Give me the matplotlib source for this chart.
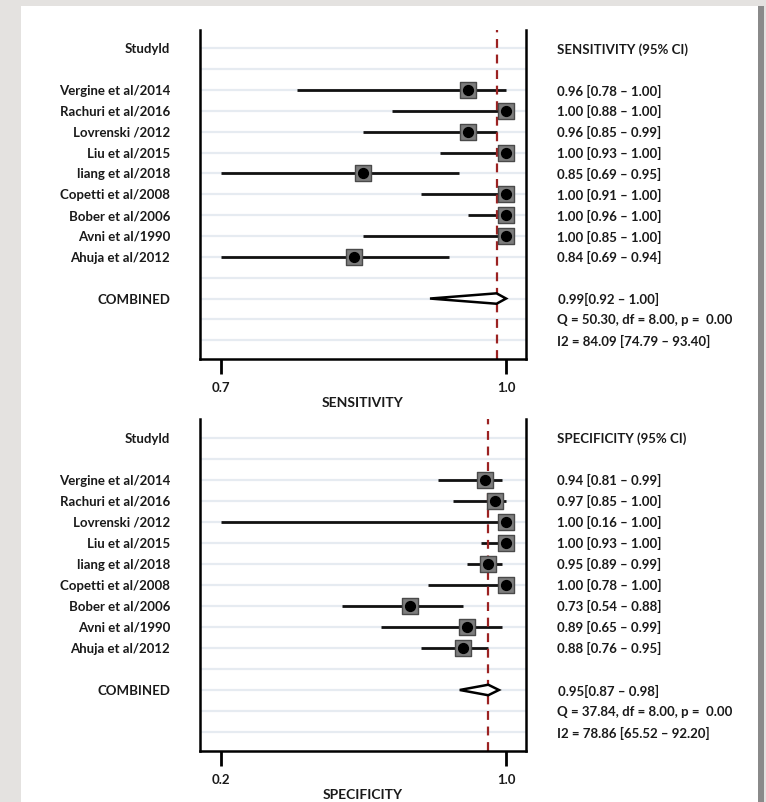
import matplotlib
matplotlib.use("Agg")
import matplotlib.pyplot as plt
from matplotlib.patches import Rectangle, Polygon

plt.rcParams['font.family'] = ['Lato', 'DejaVu Sans']
plt.rcParams['font.weight'] = 'bold'

studies = ["Vergine et al/2014", "Rachuri et al/2016", "Lovrenski /2012", "Liu et al/2015",
           "liang et al/2018", "Copetti et al/2008", "Bober et al/2006", "Avni et al/1990",
           "Ahuja et al/2012"]

sens = [0.96, 1.00, 0.96, 1.00, 0.85, 1.00, 1.00, 1.00, 0.84]
sens_lo = [0.78, 0.88, 0.85, 0.93, 0.69, 0.91, 0.96, 0.85, 0.69]
sens_hi = [1.00, 1.00, 0.99, 1.00, 0.95, 1.00, 1.00, 1.00, 0.94]
sens_comb = (0.99, 0.92, 1.00)
sens_q = "Q = 50.30, df = 8.00, p =  0.00"
sens_i2 = "I2 = 84.09 [74.79 \u2013 93.40]"

spec = [0.94, 0.97, 1.00, 1.00, 0.95, 1.00, 0.73, 0.89, 0.88]
spec_lo = [0.81, 0.85, 0.16, 0.93, 0.89, 0.78, 0.54, 0.65, 0.76]
spec_hi = [0.99, 1.00, 1.00, 1.00, 0.99, 1.00, 0.88, 0.99, 0.95]
spec_comb = (0.95, 0.87, 0.98)
spec_q = "Q = 37.84, df = 8.00, p =  0.00"
spec_i2 = "I2 = 78.86 [65.52 \u2013 92.20]"

W, H = 766, 803
fig = plt.figure(figsize=(W / 100, H / 100), dpi=100)
fig.patch.set_facecolor('#e4e2e0')
# white sheet with a shadow on the right
fig.add_artist(Rectangle((752 / W, 0), 12 / W, 1 - 7 / H, transform=fig.transFigure,
                         facecolor='#8a8a8a', edgecolor='none', zorder=0))
fig.add_artist(Rectangle((21 / W, 0), (758 - 21) / W, 1 - 7 / H, transform=fig.transFigure,
                         facecolor='white', edgecolor='none', zorder=0))

txt_size = 9.5
txt_col = '#1a1a1a'


def forest(rect, est, lo, hi, comb, q, i2, ticks, xlim, name):
    ax = fig.add_axes(rect)
    ax.set_facecolor('none')
    ax.set_xlim(*xlim)
    ax.set_ylim(14.9, -0.88)
    # light row lines
    for r in range(15):
        ax.axhline(r, color='#e6ebf1', lw=1.6, zorder=0)
    rows = list(range(2, 2 + len(est)))
    # CI lines are cut at the first tick, like the original
    for y, e, l, h in zip(rows, est, lo, hi):
        ax.plot([max(l, ticks[0]), h], [y, y], color='#111111', lw=2, solid_capstyle='butt', zorder=2)
    ax.axvline(comb[0], color='#9b2222', lw=1.6, ls=(0, (4, 3)), zorder=2.5)
    ax.scatter(est, rows, marker='s', s=135, facecolor='#7d7d7d', edgecolor='#4a4a4a', lw=1, zorder=3)
    ax.scatter(est, rows, marker='o', s=50, color='black', zorder=4)
    # combined diamond
    yc = 12
    ax.add_patch(Polygon([(comb[1], yc), (comb[0], yc - 0.25), (comb[2], yc), (comb[0], yc + 0.25)],
                         closed=True, facecolor='white', edgecolor='black', lw=1.8, zorder=3))

    ax.spines['top'].set_visible(False)
    for s in ['left', 'right', 'bottom']:
        ax.spines[s].set_linewidth(1.8)
    ax.set_yticks([])
    ax.set_xticks(ticks)
    ax.set_xticklabels(["%.1f" % t for t in ticks], fontsize=9.5, fontweight='bold', color=txt_col)
    ax.tick_params(axis='x', length=11, width=2, pad=5)
    ax.set_xlabel(name, fontsize=10, fontweight='bold', labelpad=2, color=txt_col)

    tl = ax.get_yaxis_transform()
    kw = dict(transform=tl, va='center', fontsize=txt_size, color=txt_col)
    ax.text(-0.092, 0, "Studyld", ha='right', **kw)
    for y, s in zip(rows, studies):
        ax.text(-0.092, y, s, ha='right', **kw)
    ax.text(-0.092, yc, "COMBINED", ha='right', **kw)

    ax.text(1.095, 0, name + " (95% CI)", ha='left', **kw)
    for y, e, l, h in zip(rows, est, lo, hi):
        ax.text(1.095, y, "%.2f [%.2f \u2013 %.2f]" % (e, l, h), ha='left', **kw)
    ax.text(1.098, yc, "%.2f[%.2f \u2013 %.2f]" % comb, ha='left', **kw)
    ax.text(1.095, 13, q, ha='left', **kw)
    ax.text(1.095, 14, i2, ha='left', **kw)
    return ax


forest([200 / W, 1 - 360 / H, 326 / W, 329 / H], sens, sens_lo, sens_hi, sens_comb,
       sens_q, sens_i2, [0.7, 1.0], (0.678, 1.021), "SENSITIVITY")
forest([200 / W, 1 - 752 / H, 326 / W, 332 / H], spec, spec_lo, spec_hi, spec_comb,
       spec_q, spec_i2, [0.2, 1.0], (0.141, 1.056), "SPECIFICITY")

fig.savefig("out.png", dpi=100, facecolor=fig.get_facecolor())
